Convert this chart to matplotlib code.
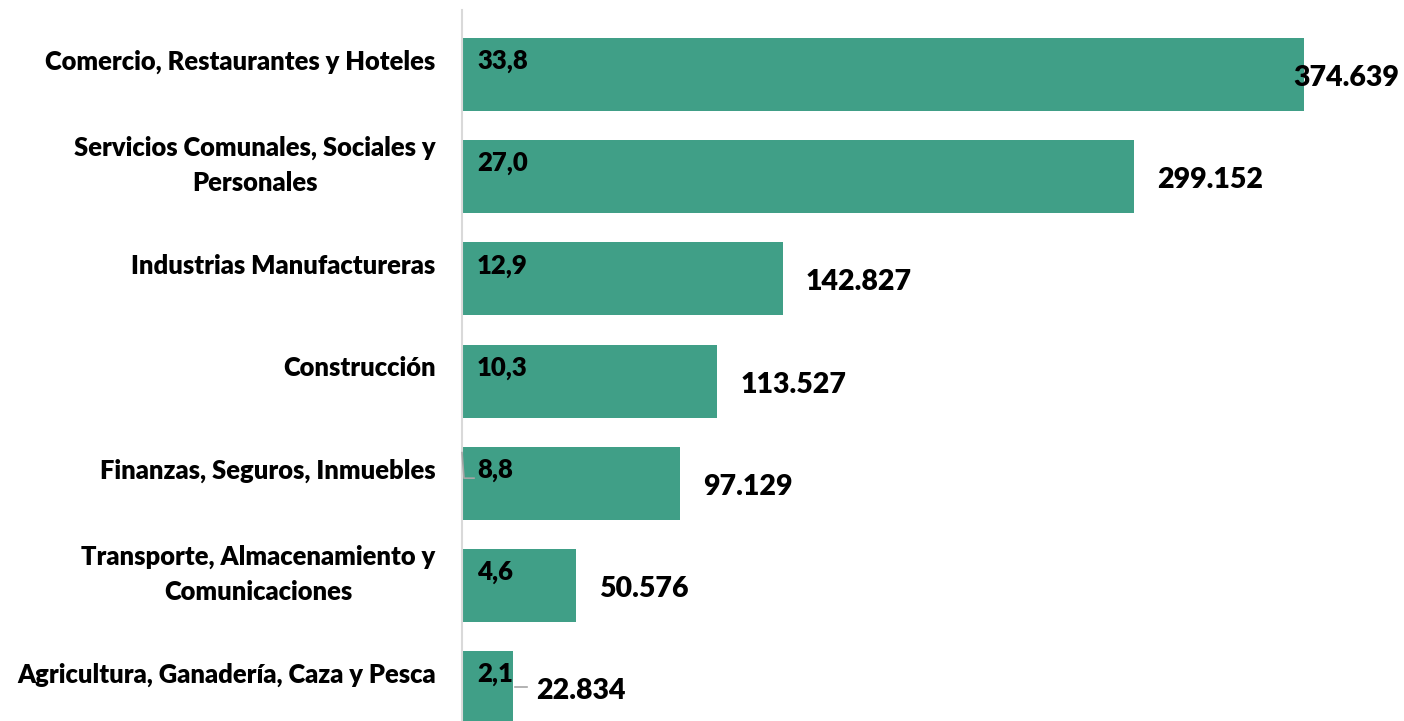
import numpy as np
import matplotlib
matplotlib.use("Agg")
import matplotlib.pyplot as plt
from matplotlib.transforms import ScaledTranslation

sectors = [
    "Comercio, Restaurantes y Hoteles",
    "Servicios Comunales, Sociales y\nPersonales",
    "Industrias Manufactureras",
    "Construcción",
    "Finanzas, Seguros, Inmuebles",
    "Transporte, Almacenamiento y\nComunicaciones",
    "Agricultura, Ganadería, Caza y Pesca",
]
workers = [374639, 299152, 142827, 113527, 97129, 50576, 22834]
shares = [33.8, 27.0, 12.9, 10.3, 8.8, 4.6, 2.1]

bar_color = "#409F87"
font = "Lato"
weight = "heavy"

fig = plt.figure(figsize=(14.04, 7.21), dpi=100)
ax = fig.add_axes([462 / 1404, 0, 942 / 1404, 711 / 721])

y = np.arange(len(sectors))
ax.barh(y, workers, height=0.715, color=bar_color, zorder=2)

ax.set_xlim(0, 419130)
ax.set_ylim(6.326, -0.631)

for s in ["top", "right", "bottom"]:
    ax.spines[s].set_visible(False)
ax.spines["left"].set_color("#d9d9d9")
ax.spines["left"].set_linewidth(1.5)
ax.set_xticks([])
ax.set_yticks(y)
ax.set_yticklabels(sectors, fontsize=18.4, fontweight=weight, family=font,
                   linespacing=1.55)
ax.tick_params(axis="y", length=0, pad=19)
for lbl in ax.get_yticklabels():
    lbl.set_multialignment("center")
    up = 19 if "\n" in lbl.get_text() else 15
    lbl.set_transform(lbl.get_transform() +
                      ScaledTranslation(0, up / 100, fig.dpi_scale_trans))

px = 419130 / 942  # data units per pixel
xmax = 419130
for i, (w, p) in enumerate(zip(workers, shares)):
    # percentage inside the bar
    ax.text(15 * px, i - 0.13, f"{p:.1f}".replace(".", ","), fontsize=18.5,
            fontweight=weight, family=font, va="center", ha="left", zorder=3)
    # worker count next to the bar
    txt = f"{w:,}".replace(",", ".")
    x = w + 23 * px
    if x + 105 * px > xmax:
        ax.text(xmax - 5 * px, i + 0.035, txt, fontsize=20.5, fontweight=weight,
                family=font, va="center", ha="right", zorder=4)
    else:
        ax.text(x, i + 0.035, txt, fontsize=20.5, fontweight=weight,
                family=font, va="center", ha="left", zorder=4)

# leader lines
ax.plot([0, 2 * px, 12 * px], [3.70, 3.95, 3.95], color="#a6a6a6", lw=1.2,
        zorder=3, clip_on=False)
ax.plot([workers[6] + 2 * px, workers[6] + 14 * px], [5.99, 5.99],
        color="#a6a6a6", lw=1.2, zorder=3)

fig.savefig("out.png", dpi=100)
